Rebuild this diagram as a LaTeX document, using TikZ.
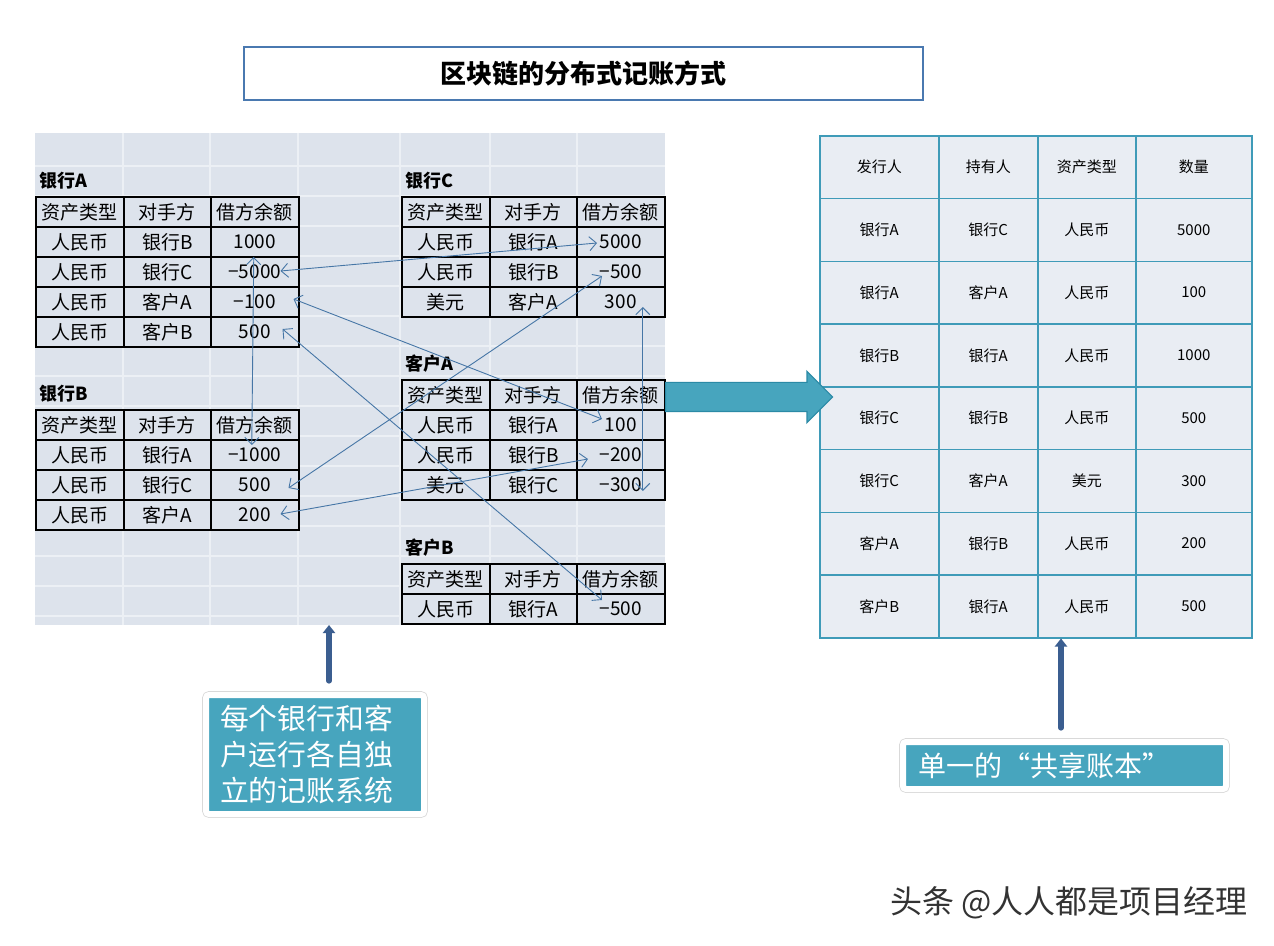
\documentclass[tikz,border=0pt]{standalone}
\usepackage{fontspec}
\setmainfont{Noto Sans CJK SC}
\usepackage{tikz}
\usetikzlibrary{arrows.meta,positioning,matrix,calc,shapes.arrows}
\definecolor{sheetbg}{RGB}{221,227,236}
\definecolor{gridln}{RGB}{236,240,245}
\definecolor{linkblue}{RGB}{70,118,166}
\definecolor{tealfill}{RGB}{71,165,190}
\definecolor{tealedge}{RGB}{43,138,166}
\definecolor{ledgerline}{RGB}{63,155,184}
\definecolor{ledgerbg}{RGB}{233,237,243}
\definecolor{navy}{RGB}{59,94,144}
\definecolor{titleblue}{RGB}{74,121,176}

\begin{document}
\begin{tikzpicture}[x=0.5pt,y=-0.5pt,
  book/.style={matrix of nodes,anchor=north west,inner sep=0pt,outer sep=0pt,column sep=-1pt,row sep=-1pt,
    nodes={draw=black,line width=1pt,fill=sheetbg,outer sep=0pt,inner sep=0pt,anchor=center,
      minimum height=15pt,minimum width=43.75pt,font=\fontsize{9.5}{9.5}\selectfont}},
  booklabel/.style={anchor=south west,inner sep=0pt,font=\bfseries\fontsize{9}{9}\selectfont},
  ledger/.style={matrix of nodes,anchor=north west,inner sep=0pt,outer sep=0pt,column sep=-0.75pt,row sep=-0.75pt,
    nodes={draw=ledgerline,line width=0.75pt,fill=ledgerbg,outer sep=0pt,inner sep=0pt,anchor=center,
      minimum height=31.375pt,font=\fontsize{7.5}{7.5}\selectfont},
    column 1/.style={nodes={minimum width=59.5pt}},
    column 2/.style={nodes={minimum width=49.5pt}},
    column 3/.style={nodes={minimum width=49pt}},
    column 4/.style={nodes={minimum width=58pt}}},
  link/.style={{Straight Barb[length=3.5pt,width=7pt]}-{Straight Barb[length=3.5pt,width=7pt]},line width=0.45pt,draw=linkblue},
  note/.style={anchor=north west,fill=tealfill,draw=white,line width=3pt,rounded corners=1.5pt,
    preaction={draw=black!15,line width=3.8pt},text=white,align=left},
  uparrow/.style={-{Triangle[length=4pt,width=6pt]},line width=2.6pt,draw=navy,line cap=round}
]
\useasboundingbox (0,0) rectangle (1274,946);
\fill[white] (0,0) rectangle (1274,946);
% title
\node[draw=titleblue,line width=1.2pt,minimum width=339.5pt,minimum height=26.5pt,inner sep=0pt,
  font=\bfseries\fontsize{13}{13}\selectfont] (title) at (583.5,73.5) {区块链的分布式记账方式};
% spreadsheet of the separate books
\node[fill=sheetbg,anchor=north west,inner sep=0pt,outer sep=0pt,minimum width=315pt,minimum height=246pt] (sheet) at (35,133) {};
\foreach \y in {166,196,...,616} \draw[gridln,line width=0.6pt] (35,\y) -- (665,\y);
\foreach \x in {123,210,298,400,490,577} \draw[gridln,line width=0.6pt] (\x,133) -- (\x,625);
\matrix[book] (bankA) at (35,196) {
  资产类型 & 对手方 & 借方余额 \\
  人民币 & 银行B & 1000 \\
  人民币 & 银行C & −5000 \\
  人民币 & 客户A & −100 \\
  人民币 & 客户B & 500 \\
};
\matrix[book] (bankB) at (35,409) {
  资产类型 & 对手方 & 借方余额 \\
  人民币 & 银行A & −1000 \\
  人民币 & 银行C & 500 \\
  人民币 & 客户A & 200 \\
};
\matrix[book] (bankC) at (401,196) {
  资产类型 & 对手方 & 借方余额 \\
  人民币 & 银行A & 5000 \\
  人民币 & 银行B & −500 \\
  美元 & 客户A & 300 \\
};
\matrix[book] (custA) at (401,379) {
  资产类型 & 对手方 & 借方余额 \\
  人民币 & 银行A & 100 \\
  人民币 & 银行B & −200 \\
  美元 & 银行C & −300 \\
};
\matrix[book] (custB) at (401,563) {
  资产类型 & 对手方 & 借方余额 \\
  人民币 & 银行A & −500 \\
};
\node[booklabel] (labA) at ([xshift=2pt,yshift=3pt]bankA.north west) {银行A};
\node[booklabel] (labB) at ([xshift=2pt,yshift=3pt]bankB.north west) {银行B};
\node[booklabel] (labC) at ([xshift=2pt,yshift=3pt]bankC.north west) {银行C};
\node[booklabel] (labD) at ([xshift=2pt,yshift=3pt]custA.north west) {客户A};
\node[booklabel] (labE) at ([xshift=2pt,yshift=3pt]custB.north west) {客户B};
% matching entries
\draw[link] ($(bankA-3-3.east)+(-18,-1)$) -- ($(bankC-2-3.west)+(20,1)$);
\draw[link] ($(bankA-4-3.east)+(-5,-3)$) -- ($(custA-2-3.west)+(25,-6)$);
\draw[link] ($(bankA-5-3.east)+(-16,-3)$) -- ($(custB-2-3.west)+(25,-9)$);
\draw[link] ($(bankA-2-3.south)+(-1,0)$) -- ($(bankB-2-3.north)+(-3,5)$);
\draw[link] ($(bankC-3-3.west)+(25,4)$) -- ($(bankB-3-3.east)+(-10,3)$);
\draw[link] ($(bankC-4-3.center)+(22,5)$) -- ($(custA-4-3.center)+(22,6)$);
\draw[link] ($(custA-3-3.west)+(11,4)$) -- ($(bankB-4-3.east)+(-18,-1)$);
% shared ledger
\matrix[ledger] (shared) at (819,135) {
  发行人 & 持有人 & 资产类型 & 数量 \\
  银行A & 银行C & 人民币 & 5000 \\
  银行A & 客户A & 人民币 & 100 \\
  银行B & 银行A & 人民币 & 1000 \\
  银行C & 银行B & 人民币 & 500 \\
  银行C & 客户A & 美元 & 300 \\
  客户A & 银行B & 人民币 & 200 \\
  客户B & 银行A & 人民币 & 500 \\
};
\node[single arrow,fill=tealfill,draw=tealedge,line width=0.6pt,inner xsep=0pt,inner ysep=7pt,
  single arrow head extend=5.5pt,minimum height=83.5pt,anchor=tail] (bigarrow) at (665,397) {};
% notes
\node[note,text width=95pt,minimum height=59.5pt,inner xsep=7pt,inner ysep=0pt,
  font=\fontsize{14.4}{18}\selectfont] (localnote) at (203,692) {每个银行和客\\户运行各自独\\立的记账系统};
\node[note,text width=146.5pt,minimum height=23.5pt,inner xsep=7.5pt,inner ysep=0pt,
  font=\fontsize{14}{14}\selectfont] (sharednote) at (900,739) {单一的“共享账本”};
\coordinate (foot1) at (329,681);
\draw[uparrow] (foot1) -- (foot1 |- sheet.south);
\coordinate (foot2) at (1061,728);
\draw[uparrow] (foot2) -- (foot2 |- shared.south);
\node[anchor=east,inner sep=0pt,text=black!80,font=\fontsize{16}{16}\selectfont] (credit) at (1248,903) {头条 @人人都是项目经理};
\end{tikzpicture}
\end{document}
